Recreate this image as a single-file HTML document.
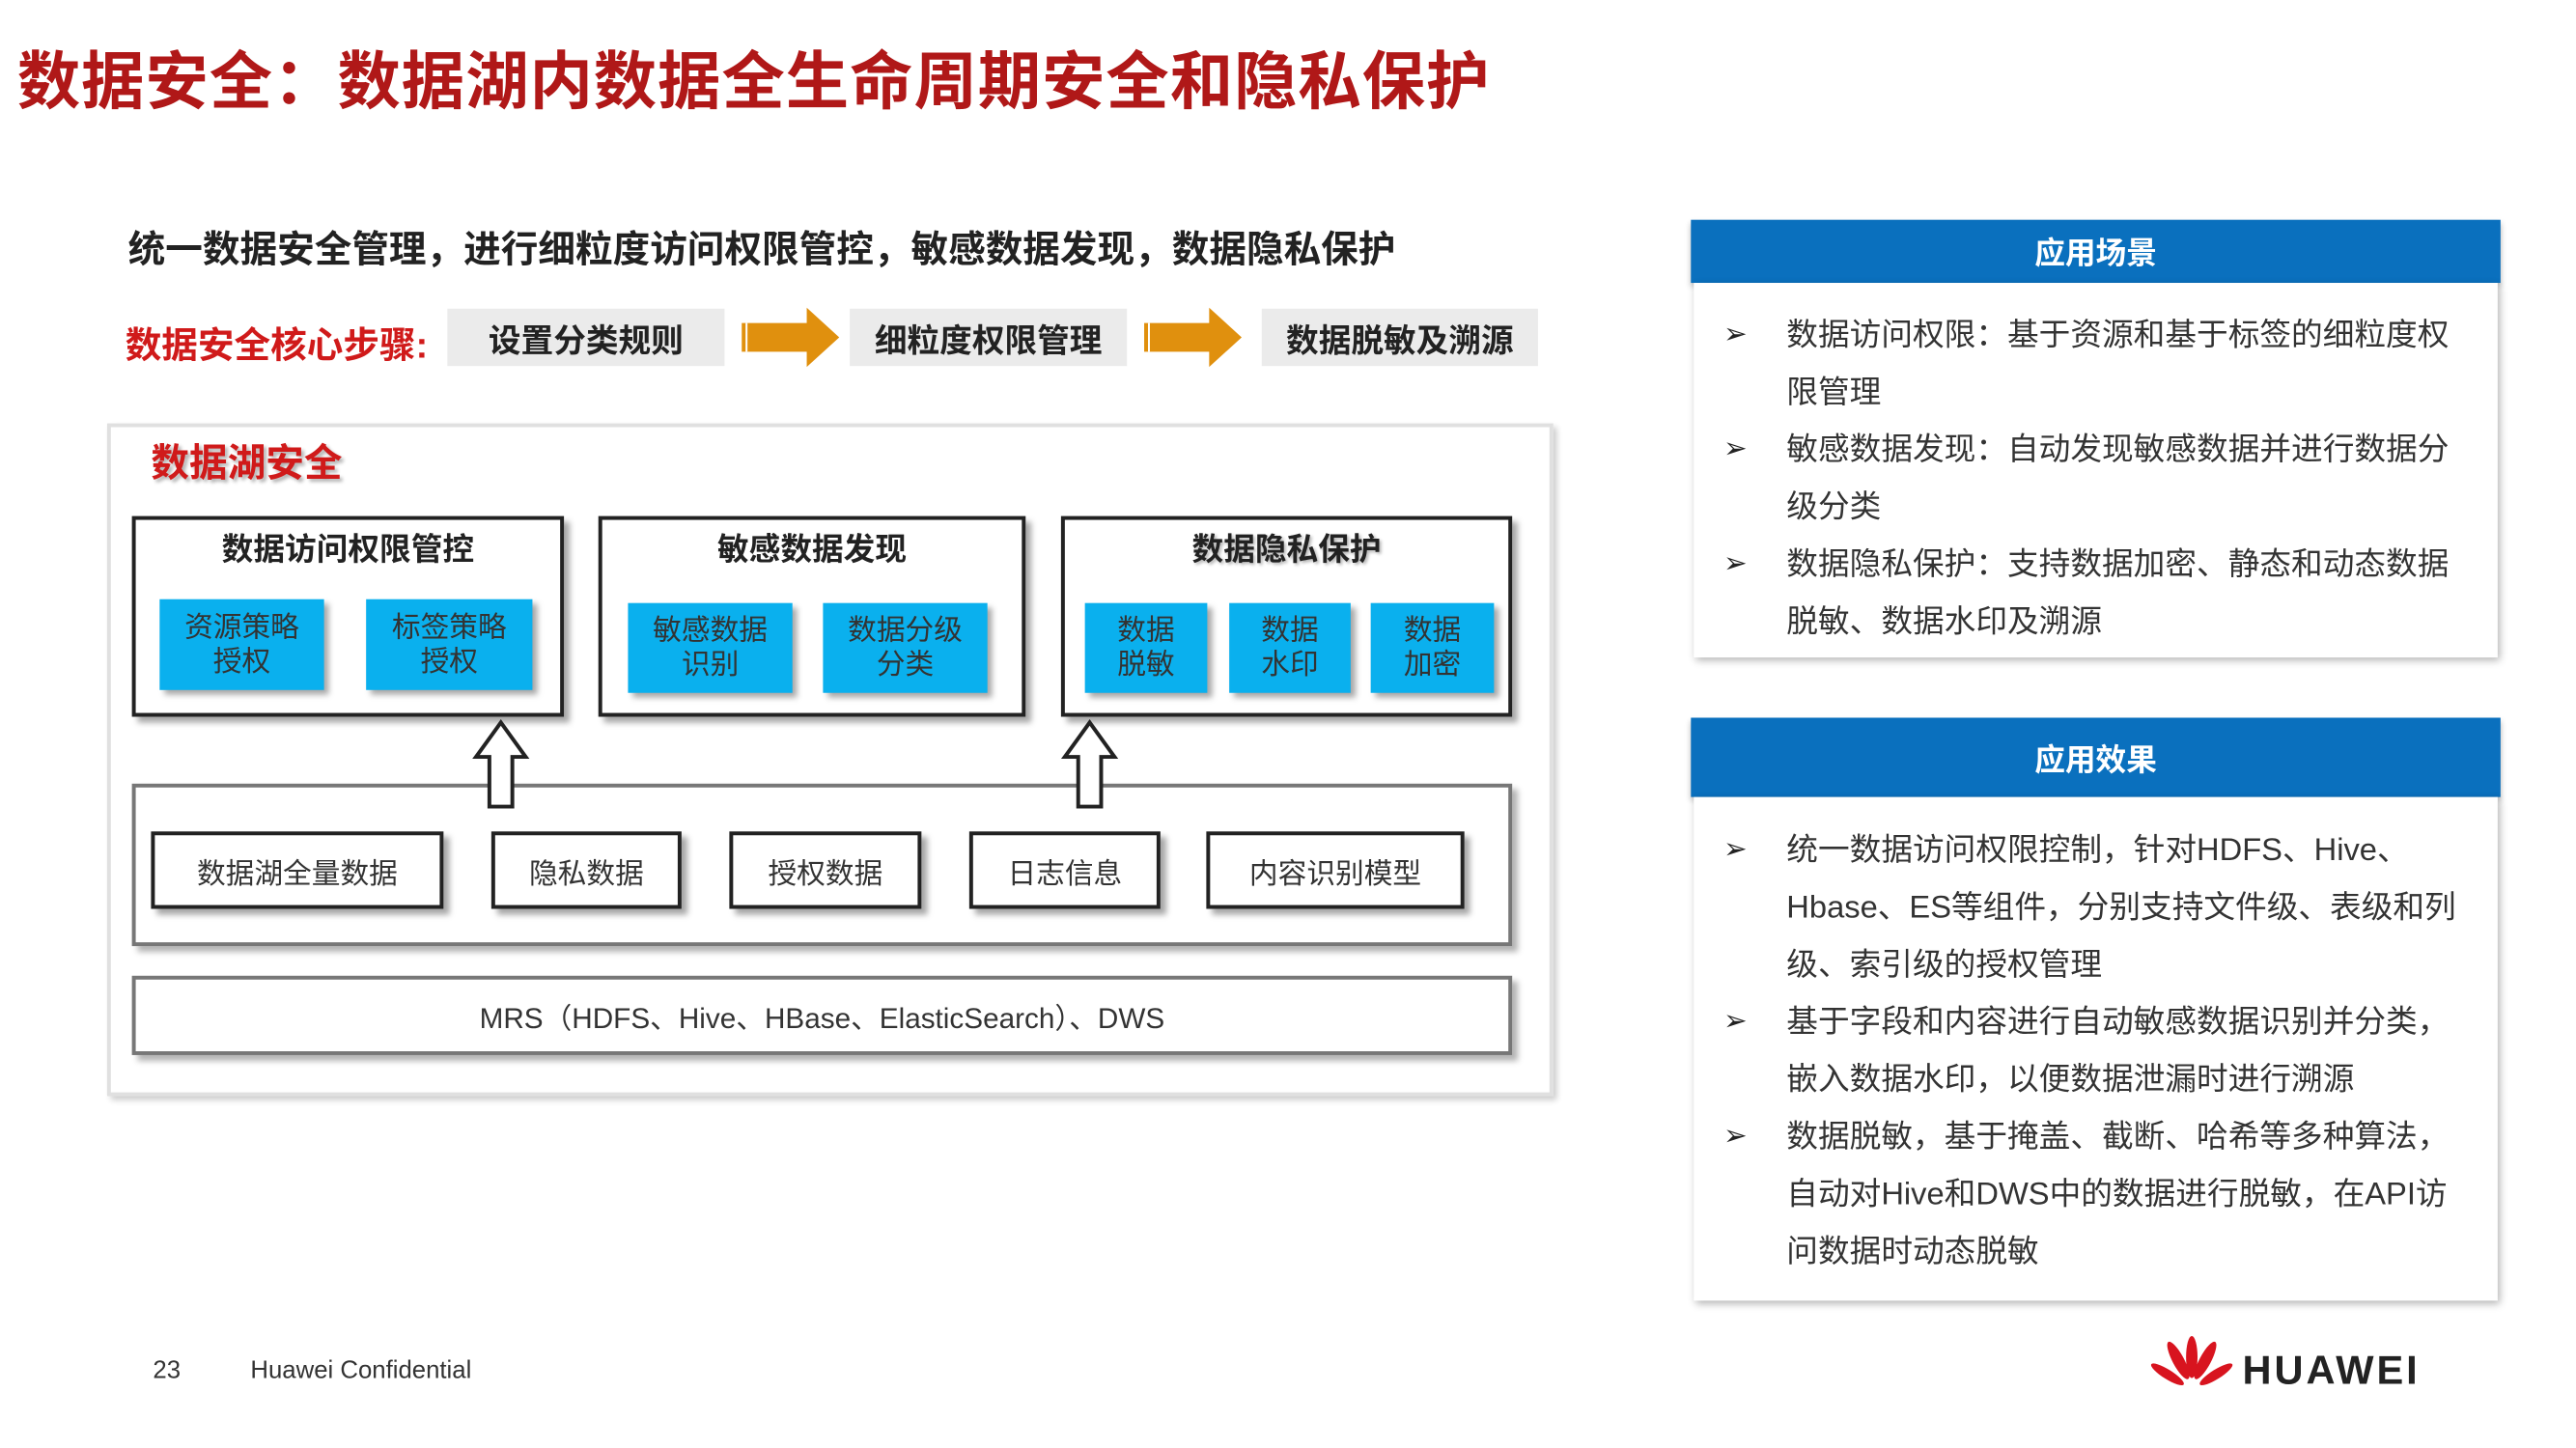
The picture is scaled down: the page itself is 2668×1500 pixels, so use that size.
<!DOCTYPE html>
<html><head><meta charset="utf-8"><style>
*{margin:0;padding:0;box-sizing:border-box}
body{width:2668px;height:1500px;background:#fff;position:relative;overflow:hidden;font-family:"Liberation Sans","Noto Sans CJK SC",sans-serif;color:#222}
#w{position:absolute;left:0;top:0;width:2668px;height:1500px;transform:scale(0.99);transform-origin:0 0}
.a{position:absolute}
.c{display:flex;align-items:center;justify-content:center;text-align:center}
.step{background:#ebebeb;font-weight:bold;font-size:34px;color:#222}
.box{border:4px solid #222;background:#fff;box-shadow:6px 6px 6px rgba(0,0,0,.35)}
.blue{background:#0ab0ee;color:#333;font-size:30px;line-height:36px;box-shadow:5px 5px 6px rgba(0,0,0,.35)}
.sm{border:4px solid #222;background:#fff;font-size:30px;color:#333;box-shadow:6px 6px 6px rgba(0,0,0,.35)}
.gbox{border:4px solid #777;background:#fff;box-shadow:6px 6px 6px rgba(0,0,0,.3)}
.tt{font-weight:bold;font-size:33px;color:#222}
.hdr{background:#0a70be;color:#fff;font-weight:bold;font-size:32px;box-shadow:0 4px 6px rgba(0,0,0,.3)}
.body{background:#fff;box-shadow:2px 3px 8px rgba(0,0,0,.3)}
.ln{position:absolute;font-size:33px;color:#333;white-space:nowrap;line-height:60px;letter-spacing:0px}
.bl{position:absolute;font-size:30px;color:#222;line-height:60px}
</style></head><body><div id="w">
<div class="a" style="left:18px;top:32px;font-size:66px;font-weight:bold;color:#b01818;white-space:nowrap;letter-spacing:1px">数据安全：数据湖内数据全生命周期安全和隐私保护</div>
<div class="a" style="left:134px;top:230px;font-size:39px;font-weight:bold;color:#222;white-space:nowrap">统一数据安全管理，进行细粒度访问权限管控，敏感数据发现，数据隐私保护</div>
<div class="a" style="left:131px;top:330px;font-size:38px;font-weight:bold;color:#d01a1a;white-space:nowrap">数据安全核心步骤:</div>
<div class="a c step" style="left:468px;top:323px;width:290px;height:60px">设置分类规则</div>
<div class="a c step" style="left:889px;top:323px;width:290px;height:60px">细粒度权限管理</div>
<div class="a c step" style="left:1320px;top:323px;width:289px;height:60px">数据脱敏及溯源</div>
<svg class="a" style="left:772px;top:320px" width="110" height="66"><polygon points="4,18 72,18 72,2 106,33 72,64 72,48 4,48" fill="#e0900e"/><line x1="9" y1="18" x2="9" y2="48" stroke="#fff" stroke-width="2"/></svg>
<svg class="a" style="left:1193px;top:320px" width="110" height="66"><polygon points="4,18 72,18 72,2 106,33 72,64 72,48 4,48" fill="#e0900e"/><line x1="9" y1="18" x2="9" y2="48" stroke="#fff" stroke-width="2"/></svg>

<div class="a" style="left:112px;top:443px;width:1513px;height:704px;border:4px solid #e0e0e0;background:#fff;box-shadow:4px 4px 6px rgba(0,0,0,.2)"></div>
<div class="a" style="left:158px;top:452px;font-size:40px;font-weight:bold;color:#d01a1a;text-shadow:3px 3px 4px rgba(0,0,0,.3)">数据湖安全</div>

<div class="a box" style="left:138px;top:540px;width:452px;height:210px"></div>
<div class="a tt c" style="left:138px;top:548px;width:452px;height:48px">数据访问权限管控</div>
<div class="a c blue" style="left:167px;top:627px;width:172px;height:95px">资源策略<br>授权</div>
<div class="a c blue" style="left:383px;top:627px;width:174px;height:95px">标签策略<br>授权</div>

<div class="a box" style="left:626px;top:540px;width:447px;height:210px"></div>
<div class="a tt c" style="left:626px;top:548px;width:447px;height:48px">敏感数据发现</div>
<div class="a c blue" style="left:657px;top:631px;width:172px;height:94px">敏感数据<br>识别</div>
<div class="a c blue" style="left:861px;top:631px;width:172px;height:94px">数据分级<br>分类</div>

<div class="a box" style="left:1110px;top:540px;width:472px;height:210px"></div>
<div class="a tt c" style="left:1110px;top:548px;width:472px;height:48px;text-shadow:2px 2px 3px rgba(0,0,0,.3)">数据隐私保护</div>
<div class="a c blue" style="left:1135px;top:631px;width:128px;height:94px">数据<br>脱敏</div>
<div class="a c blue" style="left:1286px;top:631px;width:127px;height:94px">数据<br>水印</div>
<div class="a c blue" style="left:1434px;top:631px;width:129px;height:94px">数据<br>加密</div>

<div class="a gbox" style="left:138px;top:820px;width:1444px;height:170px"></div>
<svg class="a" style="left:494px;top:752px" width="60" height="96"><polygon points="30,4 56,40 42,40 42,92 18,92 18,40 4,40" fill="#fff" stroke="#222" stroke-width="4"/></svg>
<svg class="a" style="left:1110px;top:752px" width="60" height="96"><polygon points="30,4 56,40 42,40 42,92 18,92 18,40 4,40" fill="#fff" stroke="#222" stroke-width="4"/></svg>
<div class="a c sm" style="left:158px;top:870px;width:306px;height:81px">数据湖全量数据</div>
<div class="a c sm" style="left:514px;top:870px;width:199px;height:81px">隐私数据</div>
<div class="a c sm" style="left:763px;top:870px;width:201px;height:81px">授权数据</div>
<div class="a c sm" style="left:1014px;top:870px;width:200px;height:81px">日志信息</div>
<div class="a c sm" style="left:1262px;top:870px;width:270px;height:81px">内容识别模型</div>

<div class="a c gbox" style="left:138px;top:1021px;width:1444px;height:83px;font-size:30px;color:#333">MRS（HDFS、Hive、HBase、ElasticSearch）、DWS</div>

<div class="a c hdr" style="left:1769px;top:230px;width:847px;height:66px">应用场景</div>
<div class="a body" style="left:1772px;top:296px;width:841px;height:392px"></div>
<div class="bl" style="left:1803px;top:320px">➢</div>
<div class="ln" style="left:1869px;top:320px">数据访问权限：基于资源和基于标签的细粒度权</div>
<div class="ln" style="left:1869px;top:380px">限管理</div>
<div class="bl" style="left:1803px;top:440px">➢</div>
<div class="ln" style="left:1869px;top:440px">敏感数据发现：自动发现敏感数据并进行数据分</div>
<div class="ln" style="left:1869px;top:500px">级分类</div>
<div class="bl" style="left:1803px;top:560px">➢</div>
<div class="ln" style="left:1869px;top:560px">数据隐私保护：支持数据加密、静态和动态数据</div>
<div class="ln" style="left:1869px;top:620px">脱敏、数据水印及溯源</div>

<div class="a c hdr" style="left:1769px;top:751px;width:847px;height:83px">应用效果</div>
<div class="a body" style="left:1772px;top:834px;width:841px;height:527px"></div>
<div class="bl" style="left:1803px;top:859px">➢</div>
<div class="ln" style="left:1869px;top:859px">统一数据访问权限控制，针对HDFS、Hive、</div>
<div class="ln" style="left:1869px;top:919px">Hbase、ES等组件，分别支持文件级、表级和列</div>
<div class="ln" style="left:1869px;top:979px">级、索引级的授权管理</div>
<div class="bl" style="left:1803px;top:1039px">➢</div>
<div class="ln" style="left:1869px;top:1039px">基于字段和内容进行自动敏感数据识别并分类，</div>
<div class="ln" style="left:1869px;top:1099px">嵌入数据水印，以便数据泄漏时进行溯源</div>
<div class="bl" style="left:1803px;top:1159px">➢</div>
<div class="ln" style="left:1869px;top:1159px">数据脱敏，基于掩盖、截断、哈希等多种算法，</div>
<div class="ln" style="left:1869px;top:1219px">自动对Hive和DWS中的数据进行脱敏，在API访</div>
<div class="ln" style="left:1869px;top:1279px">问数据时动态脱敏</div>

<div class="a" style="left:160px;top:1418px;font-size:26px;color:#333">23</div>
<div class="a" style="left:262px;top:1418px;font-size:26px;color:#333">Huawei Confidential</div>
<svg class="a" style="left:2250px;top:1398px" width="86" height="66" viewBox="0 0 86 66">
<g fill="#d8141f">
<ellipse cx="43" cy="22" rx="6" ry="22"/>
<ellipse cx="43" cy="22" rx="6" ry="22" transform="rotate(-28 43 52)"/>
<ellipse cx="43" cy="22" rx="6" ry="22" transform="rotate(28 43 52)"/>
<ellipse cx="43" cy="26" rx="5" ry="20" transform="rotate(-58 43 56)"/>
<ellipse cx="43" cy="26" rx="5" ry="20" transform="rotate(58 43 56)"/>
</g></svg>
<div class="a" style="left:2346px;top:1410px;font-size:42px;font-weight:bold;color:#222;letter-spacing:3px">HUAWEI</div>
</div></body></html>
